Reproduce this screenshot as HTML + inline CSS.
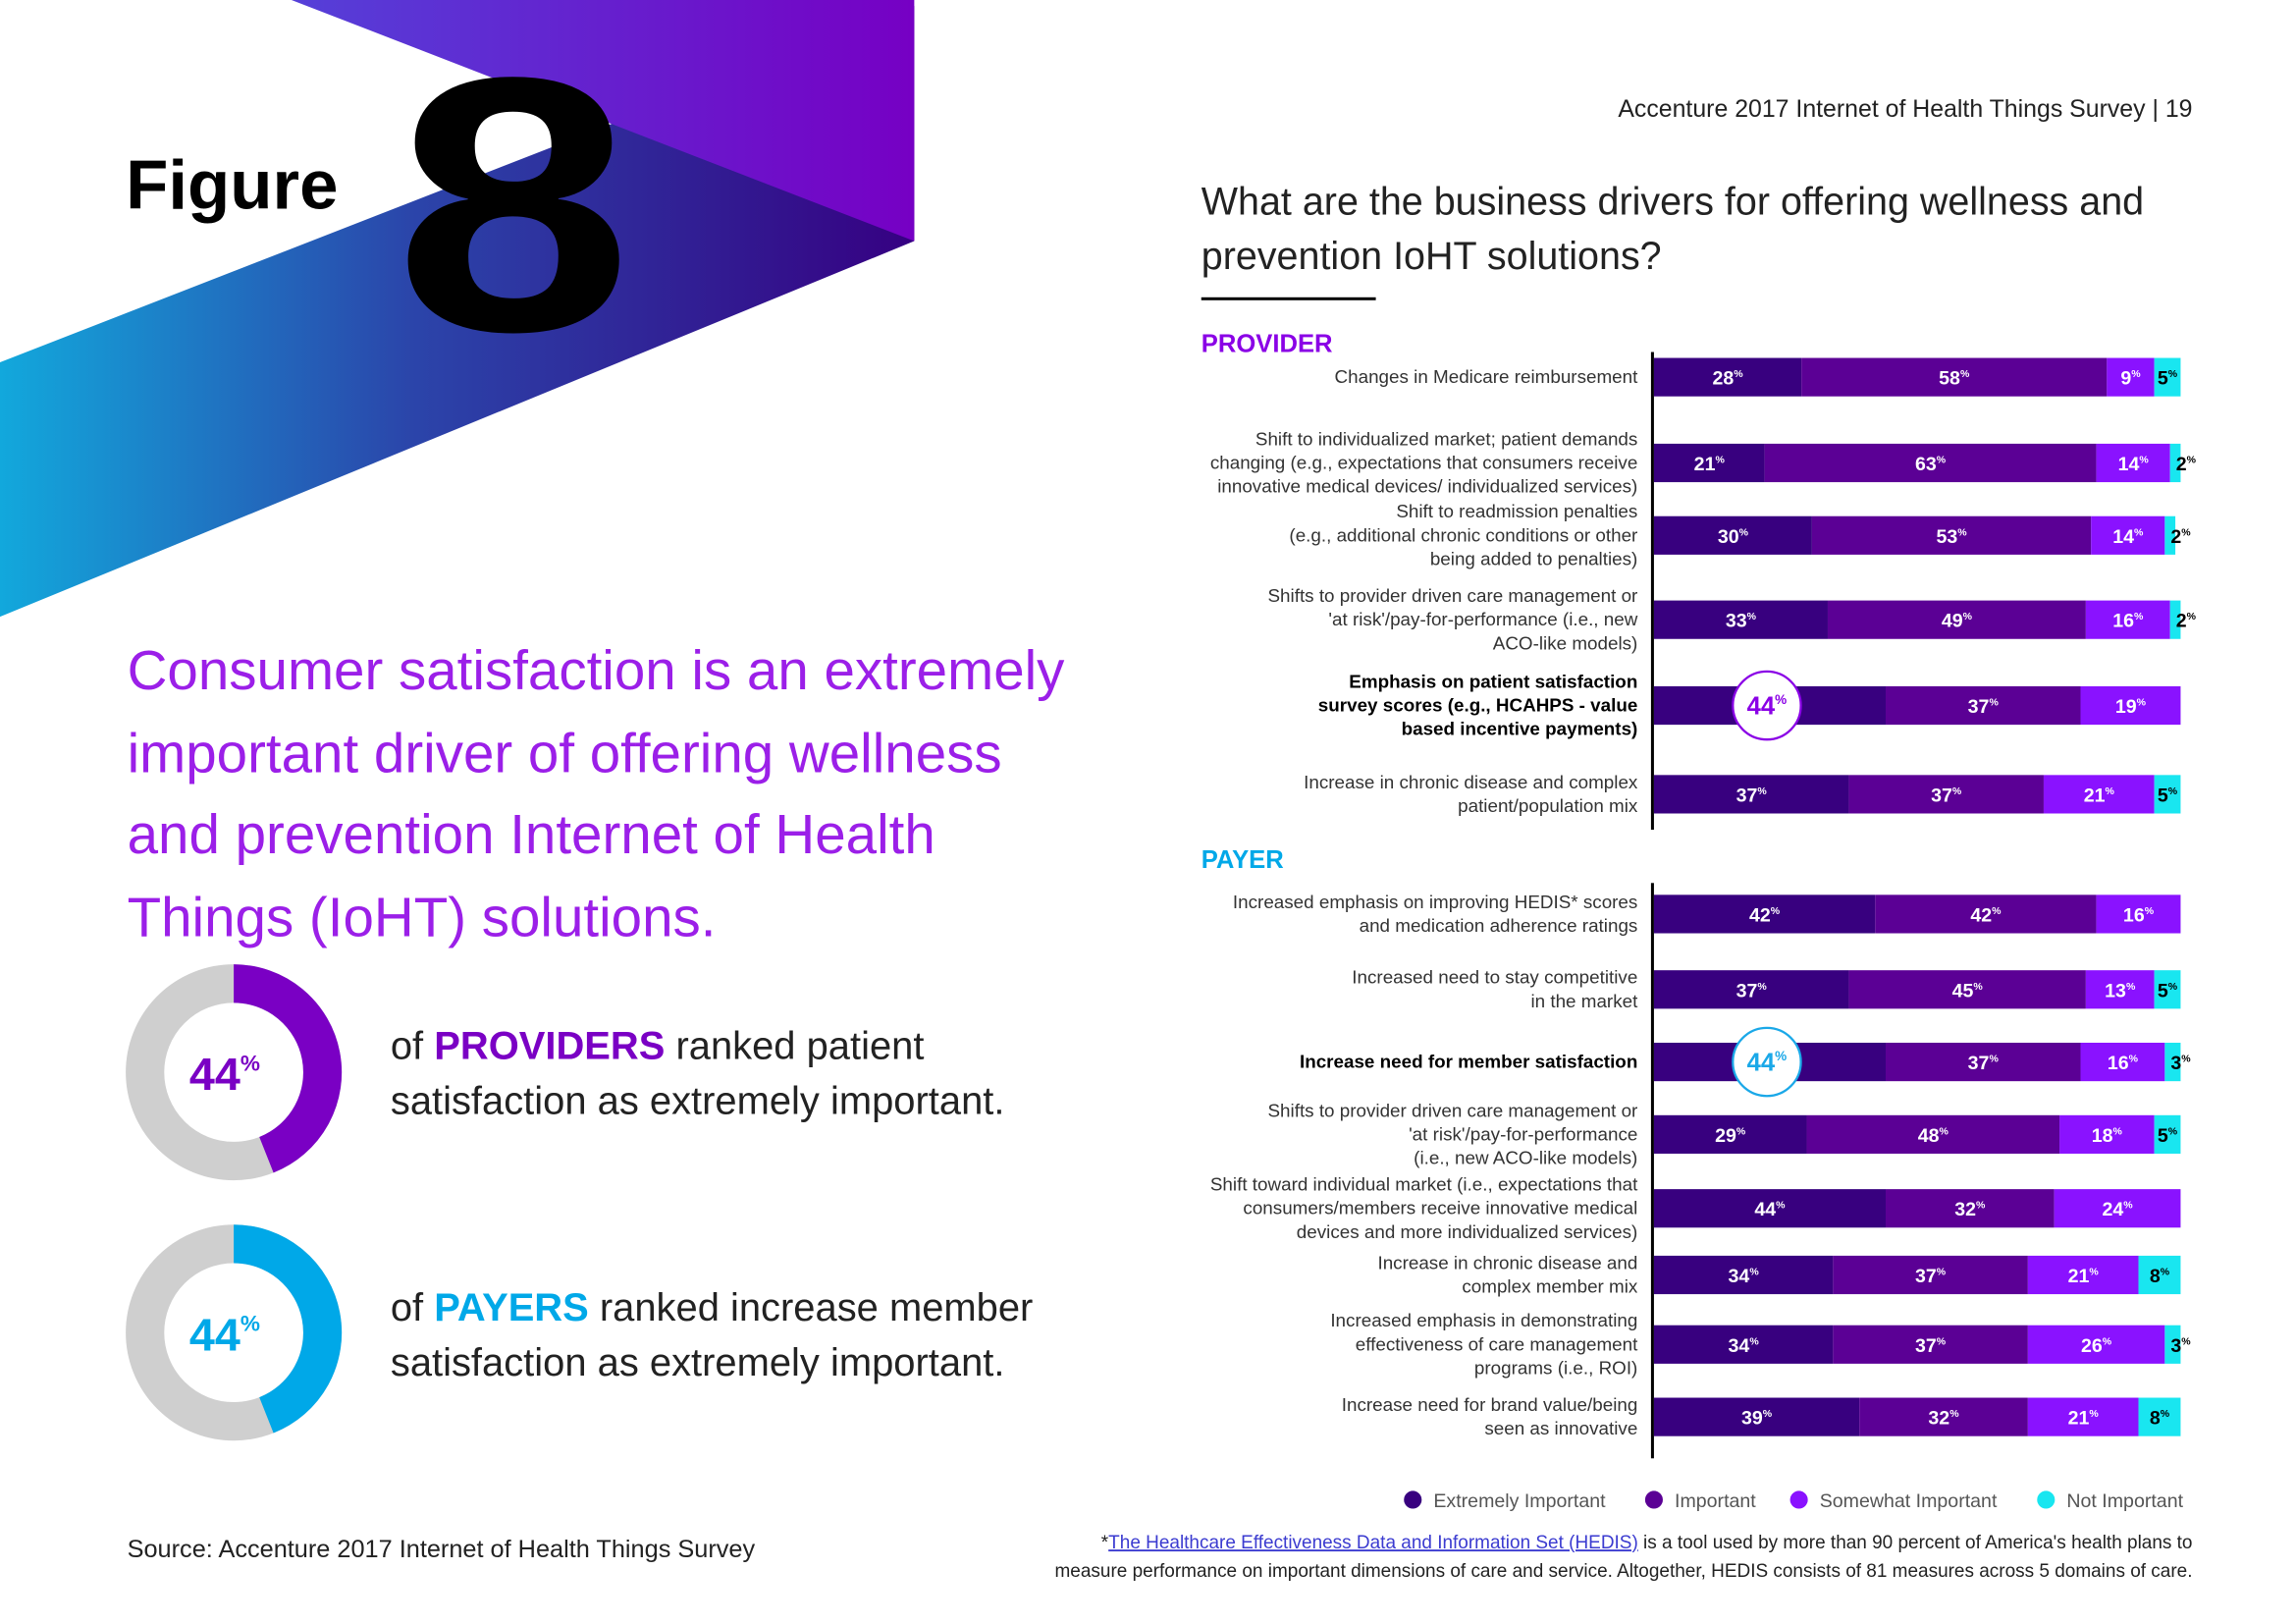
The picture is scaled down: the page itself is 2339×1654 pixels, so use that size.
<!DOCTYPE html>
<html><head><meta charset="utf-8"><style>
html,body{margin:0;padding:0;background:#fff}
svg{display:block}
text{font-family:"Liberation Sans",sans-serif}
</style></head><body>
<svg id="page" width="2339" height="1654" viewBox="0 0 1552 1098" preserveAspectRatio="none" xmlns="http://www.w3.org/2000/svg">
<defs>
<linearGradient id="gLow" x1="0" x2="1" y1="0" y2="0"><stop offset="0" stop-color="#12a8dc"/><stop offset="0.45" stop-color="#2b45aa"/><stop offset="1" stop-color="#360082"/></linearGradient>
<linearGradient id="gTop" x1="0" x2="1" y1="0" y2="0"><stop offset="0" stop-color="#5540d8"/><stop offset="1" stop-color="#7600c4"/></linearGradient>
</defs>
<g>
<polygon points="0,245 618,4 618,163 0,417" fill="url(#gLow)"/>
<polygon points="197,0 618,0 618,163" fill="url(#gTop)"/>
<text x="347" y="223" text-anchor="middle" font-size="245" font-weight="bold" fill="#000" transform="translate(347 0) scale(1.18 1) translate(-347 0)">8</text>
<text x="85" y="141" font-size="47" font-weight="bold" fill="#000">Figure</text>
</g>
<text x="1482" y="79" text-anchor="end" font-size="16.5" fill="#222">Accenture 2017 Internet of Health Things Survey | 19</text>
<g font-size="26.2" fill="#222">
<text x="812" y="145">What are the business drivers for offering wellness and</text>
<text x="812" y="182">prevention IoHT solutions?</text>
</g>
<rect x="812" y="201" width="118" height="2" fill="#000"/>
<g font-size="37.5" fill="#9b1fe8">
<text x="86" y="466">Consumer satisfaction is an extremely</text>
<text x="86" y="522">important driver of offering wellness</text>
<text x="86" y="577">and prevention Internet of Health</text>
<text x="86" y="633">Things (IoHT) solutions.</text>
</g>
<g id="donuts"></g>
<g font-size="26.5" fill="#222">
<text x="264" y="716">of <tspan font-weight="bold" fill="#7a00c4">PROVIDERS</tspan> ranked patient</text>
<text x="264" y="753">satisfaction as extremely important.</text>
</g>
<g font-size="26.5" fill="#222">
<text x="264" y="893">of <tspan font-weight="bold" fill="#00a8e8">PAYERS</tspan> ranked increase member</text>
<text x="264" y="930">satisfaction as extremely important.</text>
</g>
<text x="86" y="1053" font-size="16.8" fill="#222">Source: Accenture 2017 Internet of Health Things Survey</text>
<text x="812" y="238" font-size="17" font-weight="bold" fill="#8a00e6">PROVIDER</text>
<text x="812" y="587" font-size="17" font-weight="bold" fill="#00a8e8">PAYER</text>
<rect x="1116" y="238" width="2" height="323" fill="#000"/>
<rect x="1116" y="597" width="2" height="389" fill="#000"/>
<g id="bars"></g>
<g id="legend"></g>
<g font-size="12.6" fill="#222">
<text x="1482" y="1047" text-anchor="end">*<tspan fill="#3b3bd0" text-decoration="underline">The Healthcare Effectiveness Data and Information Set (HEDIS)</tspan> is a tool used by more than 90 percent of America's health plans to</text>
<text x="1482" y="1066" text-anchor="end">measure performance on important dimensions of care and service. Altogether, HEDIS consists of 81 measures across 5 domains of care.</text>
</g>
</svg>
<script>
const NS='http://www.w3.org/2000/svg';
const providerLabels=[["Changes in Medicare reimbursement"],["Shift to individualized market; patient demands","changing (e.g., expectations that consumers receive","innovative medical devices/ individualized services)"],["Shift to readmission penalties","(e.g., additional chronic conditions or other","being added to penalties)"],["Shifts to provider driven care management or","'at risk'/pay-for-performance (i.e., new","ACO-like models)"],["Emphasis on patient satisfaction","survey scores (e.g., HCAHPS - value","based incentive payments)"],["Increase in chronic disease and complex","patient/population mix"]];
const providerExtremely=[28,21,30,33,44,37];
const providerImportant=[58,63,53,49,37,37];
const providerSomewhat=[9,14,14,16,19,21];
const providerNot=[5,2,2,2,0,5];
const payerLabels=[["Increased emphasis on improving HEDIS* scores","and medication adherence ratings"],["Increased need to stay competitive","in the market"],["Increase need for member satisfaction"],["Shifts to provider driven care management or","'at risk'/pay-for-performance","(i.e., new ACO-like models)"],["Shift toward individual market (i.e., expectations that","consumers/members receive innovative medical","devices and more individualized services)"],["Increase in chronic disease and","complex member mix"],["Increased emphasis in demonstrating","effectiveness of care management","programs (i.e., ROI)"],["Increase need for brand value/being","seen as innovative"]];
const payerExtremely=[42,37,44,29,44,34,34,39];
const payerImportant=[42,45,37,48,32,37,37,32];
const payerSomewhat=[16,13,16,18,24,21,26,21];
const payerNot=[0,5,3,5,0,8,3,8];
const legendLabels=["Extremely Important","Important","Somewhat Important","Not Important"];
const donutValues=[44,44];

const colors=['#38007f','#5b0095','#8a12ff','#19e6f0'];
const x0=1118, pxPer=3.56, barH=26;
const xScale=v=>x0+v*pxPer;
const providerY=[255,313,362,419,477,537];
const payerY=[618,669,718,767,817,862,909,958];
const bars=document.getElementById('bars');
function mk(tag,attrs,parent){const e=document.createElementNS(NS,tag);for(const k in attrs)e.setAttribute(k,attrs[k]);parent.appendChild(e);return e;}
function drawGroup(prefix,labels,series,ys,boldIdx,circleColor){
  labels.forEach((lines,i)=>{
    const cy=ys[i];
    const g=mk('g',{},bars);
    
    
    const lh=16, top=cy-(lines.length-1)*lh/2+4;
    lines.forEach((t,j)=>{
      const tx=mk('text',{x:1107,y:top+j*lh,'text-anchor':'end','font-size':12.5,fill:i===boldIdx?'#000':'#333','font-weight':i===boldIdx?'bold':'normal'},g);
      tx.textContent=t;
      
      
    });
    let acc=0;
    series.forEach((arr,s)=>{
      const v=arr[i]; if(!v) return;
      const r=mk('rect',{x:xScale(acc),y:cy-barH/2,width:v*pxPer,height:barH,fill:colors[s]},g);
      
      
      const cx=xScale(acc+v/2);
      const small=v<=3;
      const isCircle=(i===boldIdx&&s===0);
      if(!isCircle){
        const t=mk('text',{x:small?xScale(acc)+4:cx,y:cy+5,'text-anchor':small?'start':'middle','font-size':13,'font-weight':'bold',fill:(s===3)?'#000':'#fff'},g);
        t.innerHTML=v+'<tspan font-size="7" dy="-5">%</tspan>';
        
        
      }
      acc+=v;
    });
    if(i===boldIdx){
      const ccx=xScale(series[0][i]/2)-2;
      const c=mk('circle',{cx:ccx,cy:cy,r:23,fill:'#fff',stroke:circleColor,'stroke-width':1.5},g);
      
      
      const t=mk('text',{x:ccx,y:cy+6,'text-anchor':'middle','font-size':17,'font-weight':'bold',fill:circleColor},g);
      t.innerHTML=series[0][i]+'<tspan font-size="9" dy="-7">%</tspan>';
      
      
    }
  });
}
drawGroup('provider',providerLabels,[providerExtremely,providerImportant,providerSomewhat,providerNot],providerY,4,'#8a00e6');
drawGroup('payer',payerLabels,[payerExtremely,payerImportant,payerSomewhat,payerNot],payerY,2,'#1aa8e8');

const legend=document.getElementById('legend');
const legX=[955,1118,1216,1383];
legendLabels.forEach((l,i)=>{
  const g=mk('g',{},legend);
  
  
  mk('circle',{cx:legX[i],cy:1014,r:6,fill:colors[i]},g);
  const t=mk('text',{x:legX[i]+14,y:1019,'font-size':13,fill:'#555'},g);
  t.textContent=l;
});

const donuts=document.getElementById('donuts');
const donutCY=[725,901], donutCol=['#7a00c4','#00a8e8'];
donutValues.forEach((v,i)=>{
  const g=mk('g',{},donuts);
  
  
  const cx=158, cy=donutCY[i], r=60, w=26;
  mk('circle',{cx:cx,cy:cy,r:r,fill:'none',stroke:'#cfcfcf','stroke-width':w},g);
  const a=v/100*2*Math.PI;
  const ex=cx+r*Math.sin(a), ey=cy-r*Math.cos(a);
  const p=mk('path',{d:`M${cx} ${cy-r} A${r} ${r} 0 ${v>50?1:0} 1 ${ex} ${ey}`,fill:'none',stroke:donutCol[i],'stroke-width':w},g);
  
  
  const t=mk('text',{x:cx-30,y:cy+12,'font-size':31,'font-weight':'bold',fill:donutCol[i]},g);
  t.innerHTML=v+'<tspan font-size="15" dy="-13">%</tspan>';
  
  
});
</script>
</body></html>
